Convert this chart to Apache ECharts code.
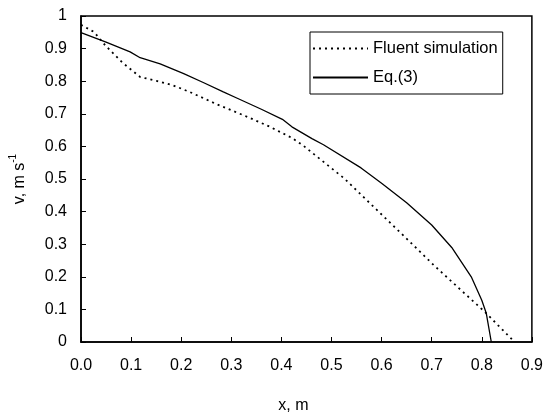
<!DOCTYPE html>
<html>
<head>
<meta charset="utf-8">
<script src="https://cdn.jsdelivr.net/npm/echarts@6/dist/echarts.min.js"></script>
<style>
    html, body { margin: 0; padding: 0; background: #fff; }
    #chart { width: 546px; height: 419px; }
</style>
</head>
<body>
<div id="chart"></div>
<script>
// Fluent simulation (dotted), [x, v]
var fluentX = [0, 0.026, 0.049, 0.082, 0.118, 0.151, 0.184, 0.217, 0.27, 0.333, 0.376, 0.421, 0.444, 0.526, 0.592, 0.648, 0.704, 0.76, 0.805, 0.861];
var fluentV = [0.973, 0.951, 0.909, 0.858, 0.813, 0.801, 0.787, 0.767, 0.73, 0.69, 0.661, 0.626, 0.602, 0.501, 0.403, 0.32, 0.236, 0.157, 0.094, 0.007];

// Eq.(3) (solid)
var eqX = [0, 0.05, 0.098, 0.118, 0.158, 0.205, 0.244, 0.284, 0.313, 0.36, 0.402, 0.421, 0.461, 0.484, 0.559, 0.6, 0.65, 0.7, 0.74, 0.779, 0.8, 0.809, 0.819];
var eqV = [0.949, 0.92, 0.89, 0.872, 0.853, 0.823, 0.796, 0.767, 0.747, 0.714, 0.683, 0.66, 0.624, 0.605, 0.534, 0.487, 0.427, 0.359, 0.29, 0.2, 0.128, 0.088, 0];

var seriesNames = ['Fluent simulation', 'Eq.(3)'];

function pairs(xs, ys) {
    return xs.map(function (x, i) {
        return [x, ys[i]];
    });
}

var font = 'Arial, "Liberation Sans", sans-serif';
var myChart = echarts.init(document.getElementById('chart'));

var option = {
    animation: false,
    backgroundColor: '#fff',
    textStyle: { fontFamily: font, color: '#000' },
    grid: {
        left: 76,
        top: 16,
        right: 13,
        bottom: 64,
        show: true,
        borderColor: '#000',
        borderWidth: 1.5,
        containLabel: false
    },
    legend: {
        orient: 'vertical',
        left: 310,
        top: 32,
        width: 197,
        padding: [8, 5, 8, 2],
        itemWidth: 55,
        itemHeight: 14,
        itemGap: 12,
        borderColor: '#000',
        borderWidth: 1,
        backgroundColor: '#fff',
        itemStyle: { opacity: 0 },
        textStyle: { fontFamily: font, fontSize: 16.5, color: '#000', padding: [0, 0, 0, 0] },
        data: seriesNames
    },
    xAxis: {
        type: 'value',
        min: 0,
        max: 0.9,
        interval: 0.1,
        name: 'x, m',
        nameLocation: 'middle',
        nameGap: 56,
        nameTextStyle: { fontFamily: font, fontSize: 16, color: '#000', padding: [0, 26, 0, 0] },
        axisLine: { lineStyle: { color: '#000', width: 1.5 } },
        axisTick: { inside: true, length: 5, lineStyle: { color: '#000' } },
        axisLabel: {
            margin: 16,
            fontSize: 16,
            color: '#000',
            formatter: function (v) { return v.toFixed(1); }
        },
        splitLine: { show: false }
    },
    yAxis: {
        type: 'value',
        min: 0,
        max: 1,
        interval: 0.1,
        name: '{a|v, m s}{b|-1}',
        nameLocation: 'middle',
        nameGap: 53,
        nameTextStyle: {
            color: '#000',
            rich: {
                a: { fontFamily: font, fontSize: 16, color: '#000', lineHeight: 20, verticalAlign: 'bottom' },
                b: { fontFamily: font, fontSize: 10, color: '#000', lineHeight: 20, verticalAlign: 'top' }
            }
        },
        axisLine: { show: true, lineStyle: { color: '#000', width: 1.5 } },
        axisTick: { show: true, inside: true, length: 5, lineStyle: { color: '#000' } },
        axisLabel: {
            margin: 14,
            fontSize: 16,
            color: '#000',
            formatter: function (v) {
                if (v === 0 || v === 1) return String(v);
                return v.toFixed(1);
            }
        },
        splitLine: { show: false }
    },
    series: [{
        name: seriesNames[0],
        type: 'line',
        data: pairs(fluentX, fluentV),
        symbol: 'none',
        color: '#000',
        lineStyle: { color: '#000', width: 1.8, type: [2, 4] },
        z: 3
    }, {
        name: seriesNames[1],
        type: 'line',
        data: pairs(eqX, eqV),
        symbol: 'none',
        color: '#000',
        lineStyle: { color: '#000', width: 1.3, type: 'solid' },
        z: 2
    }]
};

myChart.setOption(option);
</script>
</body>
</html>
